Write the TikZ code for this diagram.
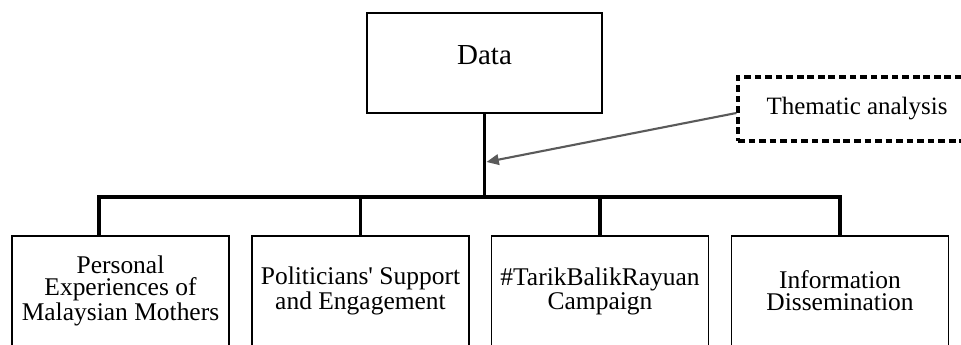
\documentclass[tikz,border=0pt]{standalone}
\usepackage{fontspec}
\setmainfont{Liberation Serif}
\usetikzlibrary{arrows.meta}
\definecolor{arrowgray}{RGB}{90,90,90}

\begin{document}
\begin{tikzpicture}[
    theme/.style={draw, line width=0.6pt, minimum width=4.34cm, minimum height=2.2cm,
      align=center, inner sep=0pt, font=\fontsize{14.5}{12.4}\selectfont},
    bus/.style={line width=2pt},
  ]
  \useasboundingbox (0,0) rectangle (19.22,6.9);
  \clip (0,0) rectangle (19.22,6.9);

  \node[draw, line width=0.6pt, minimum width=4.7cm, minimum height=2cm, text depth=0.3cm,
    font=\fontsize{16.5}{20}\selectfont] (data) at (9.69,5.64) {Data};
  \node[draw, line width=1.8pt, dash pattern=on 3.8pt off 2.2pt, minimum width=4.76cm,
    minimum height=1.28cm, font=\fontsize{14.2}{16}\selectfont] (them) at (17.14,4.72) {Thematic analysis};

  \node[theme] (mothers) at (2.41,1.08) {Personal\\Experiences of\\Malaysian Mothers};
  \node[theme] (politics) at (7.21,1.08) {Politicians\textquotesingle{} Support\\and Engagement};
  \node[theme] (campaign) at (12.0,1.08) {\#TarikBalikRayuan\\Campaign};
  \node[theme] (info) at (16.8,1.08) {Information\\Dissemination};

  \coordinate (hub) at (9.69,2.96);
  \coordinate (tap) at (9.73,3.66);
  \coordinate (d1) at ([xshift=-0.43cm]mothers.north);

  % tree lines
  \draw[bus] (data.south) -- (hub);
  \draw[bus] (d1) |- (hub) -| (info.north);
  \draw[bus] (politics.north) -- (politics.north |- hub);
  \draw[bus] (campaign.north) -- (campaign.north |- hub);

  \draw[-{Triangle[length=7pt,width=6pt]}, line width=1.2pt, arrowgray] ([yshift=-0.08cm]them.west) -- (tap);
\end{tikzpicture}
\end{document}
